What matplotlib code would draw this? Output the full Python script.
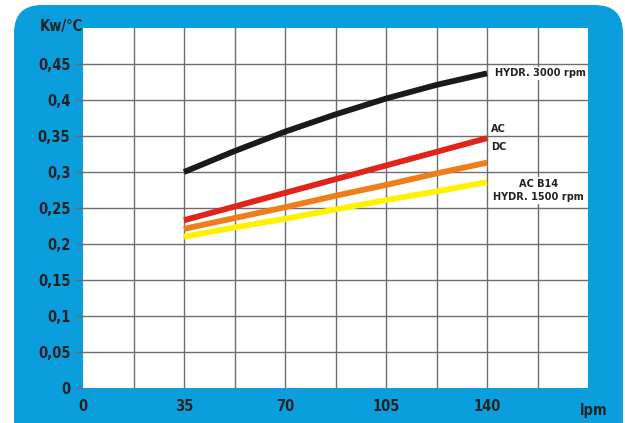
import numpy as np
import matplotlib.pyplot as plt
from matplotlib.patches import FancyBboxPatch

# Dati
portata = [35, 52.5, 70, 87.5, 105, 122.5, 140]
hydr_3000 = [0.300, 0.329, 0.356, 0.380, 0.402, 0.421, 0.437]
ac_dc = [0.233, 0.252, 0.271, 0.290, 0.309, 0.328, 0.347]
ac_b14 = [0.221, 0.236, 0.251, 0.267, 0.282, 0.298, 0.313]
hydr_1500 = [0.210, 0.223, 0.235, 0.248, 0.261, 0.273, 0.286]

x_ticks = [0, 35, 70, 105, 140]
y_ticks = [0, 0.05, 0.1, 0.15, 0.2, 0.25, 0.3, 0.35, 0.4, 0.45]
y_labels = ['0', '0,05', '0,1', '0,15', '0,2', '0,25', '0,3', '0,35', '0,4', '0,45']

blu = '#0a9fdc'
font = ['Liberation Sans Narrow', 'DejaVu Sans']
plt.rcParams['font.family'] = font
plt.rcParams['font.stretch'] = 'condensed'

fig = plt.figure(figsize=(6.25, 4.23), dpi=100)
fig.patch.set_facecolor('white')

# Cornice blu arrotondata
cornice = FancyBboxPatch((14 / 625, -0.1), 609 / 625, 1.1 - 5 / 423,
                         boxstyle='round,pad=0,rounding_size=0.045',
                         transform=fig.transFigure, facecolor=blu,
                         edgecolor='none', zorder=-5, mutation_aspect=625 / 423)
fig.patches.append(cornice)

ax = fig.add_axes([83 / 625, 35 / 423, 505 / 625, 360 / 423])
ax.set_zorder(2)
ax.set_facecolor('white')
ax.set_xlim(0, 175)
ax.set_ylim(0, 0.5)

# Griglia
for gx in np.arange(17.5, 175, 17.5):
    ax.axvline(gx, color='#6e6e6e', lw=1.0, zorder=1)
for gy in np.arange(0.05, 0.5, 0.05):
    ax.axhline(gy, color='#6e6e6e', lw=1.0, zorder=1)

lw = 4.2
ax.plot(portata, hydr_1500, color='#fff200', lw=lw, solid_capstyle='butt', zorder=3)
ax.plot(portata, ac_b14, color='#ef7d1a', lw=lw, solid_capstyle='butt', zorder=3)
ax.plot(portata, ac_dc, color='#e2231a', lw=lw, solid_capstyle='butt', zorder=3)
ax.plot(portata, hydr_3000, color='#1a1a1a', lw=lw, solid_capstyle='butt',
        solid_joinstyle='round', zorder=3)

box = dict(facecolor='white', edgecolor='none', pad=1)
tk = dict(fontsize=7.8, fontweight='bold', color='#222222', zorder=4, family=font)
ax.text(142.8, 0.437, 'HYDR. 3000 rpm', ha='left', va='center', bbox=box, **tk)
ax.text(141.3, 0.360, 'AC', ha='left', va='center', **tk)
ax.text(141.3, 0.335, 'DC', ha='left', va='center', **tk)
ax.text(157.7, 0.2745, 'AC B14\nHYDR. 1500 rpm', ha='center', va='center',
        multialignment='center', linespacing=1.45, bbox=box, **tk)

ax.set_xticks(x_ticks)
ax.set_xticklabels([str(v) for v in x_ticks])
ax.set_yticks(y_ticks)
ax.set_yticklabels(y_labels)
ax.tick_params(axis='y', length=6, width=1.0, color='#6e6e6e', pad=3)
ax.tick_params(axis='x', length=0, pad=8)
for lab in ax.get_xticklabels() + ax.get_yticklabels():
    lab.set_fontsize(10.5)
    lab.set_fontweight('bold')
    lab.set_color('#222222')

for s in ax.spines.values():
    s.set_visible(False)

fig.text(594 / 625, 13 / 423, 'lpm', ha='center', va='center',
         fontsize=10.5, fontweight='bold', color='#222222')
fig.text(61 / 625, 396 / 423, 'Kw/°C', ha='center', va='center',
         fontsize=10.5, fontweight='bold', color='#222222')

fig.savefig('out.png', dpi=100)
